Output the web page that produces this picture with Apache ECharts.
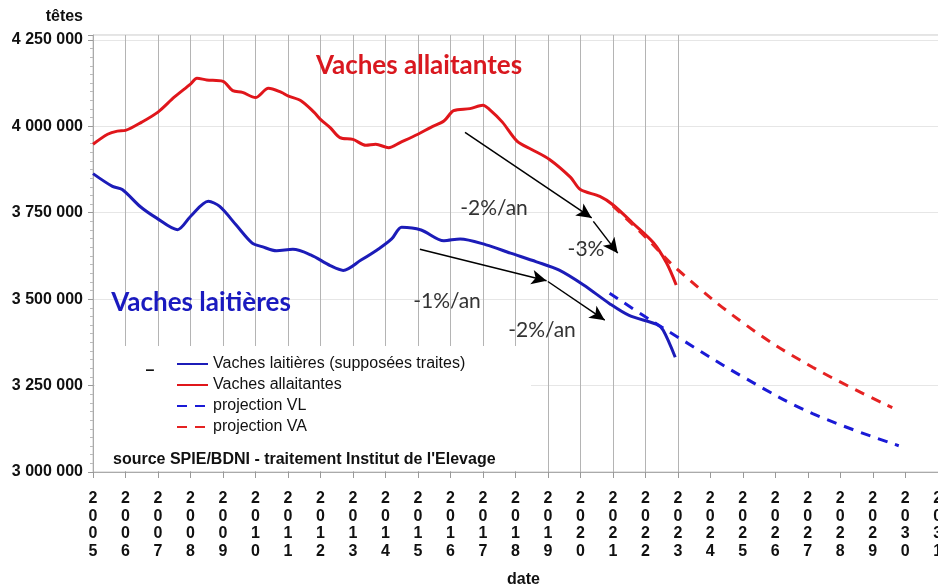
<!DOCTYPE html>
<html>
<head>
<meta charset="utf-8">
<script src="https://cdn.jsdelivr.net/npm/echarts@6/dist/echarts.min.js"></script>
<style>
  html, body { margin: 0; padding: 0; background: #fff; }
  #main { width: 938px; height: 585px; }
</style>
</head>
<body>
<div id="main"></div>
<script>
// effectifs (têtes), [année décimale, valeur]
const vaSolid = [
  [2005.0, 3948000], [2005.45, 3977000], [2005.75, 3986000], [2006.0, 3988000],
  [2006.5, 4012000], [2007.0, 4041000], [2007.5, 4084000], [2008.0, 4122000],
  [2008.2, 4139000], [2008.5, 4134000], [2009.0, 4130000], [2009.3, 4103000],
  [2009.6, 4098000], [2010.0, 4083000], [2010.4, 4110000], [2010.8, 4098000],
  [2011.0, 4088000], [2011.4, 4074000], [2011.8, 4041000], [2012.0, 4020000],
  [2012.3, 3996000], [2012.6, 3967000], [2013.0, 3962000], [2013.4, 3945000],
  [2013.7, 3948000], [2014.1, 3938000], [2014.45, 3953000], [2015.0, 3977000],
  [2015.4, 3997000], [2015.8, 4015000], [2016.1, 4045000], [2016.6, 4051000],
  [2017.0, 4061000], [2017.2, 4049000], [2017.6, 4012000], [2018.05, 3957000],
  [2018.5, 3933000], [2019.05, 3904000], [2019.7, 3852000], [2020.0, 3817000],
  [2020.6, 3797000], [2021.0, 3773000], [2021.6, 3721000], [2022.25, 3663000],
  [2022.65, 3605000], [2022.95, 3541000]
];
const vlSolid = [
  [2005.0, 3863000], [2005.6, 3826000], [2005.9, 3817000], [2006.45, 3768000],
  [2006.95, 3735000], [2007.6, 3701000], [2008.0, 3739000], [2008.55, 3783000],
  [2008.9, 3768000], [2009.4, 3715000], [2009.9, 3662000], [2010.2, 3652000],
  [2010.65, 3640000], [2011.15, 3644000], [2011.7, 3628000], [2012.3, 3597000],
  [2012.7, 3583000], [2013.25, 3613000], [2013.8, 3646000], [2014.2, 3675000],
  [2014.5, 3708000], [2015.1, 3700000], [2015.8, 3669000], [2016.3, 3674000],
  [2017.1, 3657000], [2017.85, 3633000], [2018.65, 3608000], [2019.35, 3584000],
  [2020.1, 3541000], [2020.9, 3487000], [2021.5, 3453000], [2022.35, 3427000],
  [2022.55, 3410000], [2022.92, 3332000]
];
const vlProj = [
  [2020.9, 3517000], [2022.0, 3449000], [2023.0, 3390000], [2025.1, 3270000],
  [2027.15, 3169000], [2029.8, 3076000]
];
const vaProj = [
  [2021.0, 3770000], [2022.0, 3680000], [2023.0, 3585000], [2025.1, 3425000],
  [2027.15, 3303000], [2029.6, 3186000]
];
// flèches de tendance : [départ, arrivée]
const arrowsVA = [
  [[2016.45, 3982000], [2020.35, 3735000]],
  [[2020.4, 3725000], [2021.15, 3633000]]
];
const arrowsVL = [
  [[2015.06, 3644000], [2018.96, 3553000]],
  [[2019.0, 3551000], [2020.75, 3439000]]
];
const firstYear = 2005, lastObsYear = 2023;

const gridYears = [];
for (let y = firstYear; y <= lastObsYear; y++) gridYears.push(y);

const fmtNum = v => String(v).replace(/\B(?=(\d{3})+(?!\d))/g, ' ');
const arrowData = list => list.map(a => [{ coord: a[0] }, { coord: a[1] }]);

const chart = echarts.init(document.getElementById('main'));
const option = {
  animation: false,
  textStyle: { fontFamily: 'Liberation Sans, Arial, sans-serif' },
  grid: {
    left: 93, top: 35, right: -16, bottom: 113, show: true,
    borderColor: '#c8c8c8', borderWidth: 1, outerBoundsMode: 'none', containLabel: false
  },
  legend: {
    data: ['Vaches laitières (supposées traites)', 'Vaches allaitantes', 'projection VL', 'projection VA'],
    orient: 'vertical', left: 176, top: 356, itemWidth: 31, itemHeight: 12, itemGap: 5,
    padding: 0, selectedMode: false, z: 20,
    itemStyle: { color: 'transparent', borderWidth: 0, opacity: 0 },
    textStyle: { fontSize: 16, color: '#111', fontFamily: 'Liberation Sans, Arial', padding: [0, 0, 0, 0] }
  },
  xAxis: {
    type: 'value', min: 2005, max: 2031.5, interval: 1,
    name: 'date', nameLocation: 'middle', nameGap: 100,
    nameTextStyle: { fontSize: 16, fontWeight: 'bold', color: '#111' },
    axisLine: { lineStyle: { color: '#aaa' } },
    axisTick: { length: 6, lineStyle: { color: '#999' } },
    splitLine: { show: false },
    axisLabel: {
      formatter: v => Number.isInteger(v) ? String(v).split('').join('\n') : '',
      fontSize: 16, fontWeight: 'bold', color: '#111', lineHeight: 17.5, margin: 18,
      showMaxLabel: true
    }
  },
  yAxis: {
    type: 'value', min: 3000000, max: 4264000, interval: 250000,
    axisLine: { show: true, lineStyle: { color: '#aaa' } },
    axisTick: { show: true, length: 5, lineStyle: { color: '#999' } },
    minorTick: { show: true, splitNumber: 10, length: 3, lineStyle: { color: '#bbb' } },
    splitLine: { lineStyle: { color: '#e6e6e6' } },
    axisLabel: {
      formatter: v => v % 250000 === 0 ? fmtNum(v) : '',
      fontSize: 16, fontWeight: 'bold', color: '#111', margin: 10
    }
  },
  series: [
    {
      name: 'gridlines', type: 'line', data: [], z: 0, silent: true,
      markLine: {
        silent: true, z: 0, symbol: ['none', 'none'], label: { show: false },
        lineStyle: { color: '#b4b4b4', width: 1, type: 'solid' },
        data: gridYears.map(y => ({ xAxis: y }))
      }
    },
    {
      name: 'Vaches laitières (supposées traites)', type: 'line', data: vlSolid,
      showSymbol: false, symbol: 'none', smooth: 0.3,
      lineStyle: { color: '#1c1cb8', width: 3 }, itemStyle: { color: '#1c1cb8' }, z: 3
    },
    {
      name: 'Vaches allaitantes', type: 'line', data: vaSolid,
      showSymbol: false, symbol: 'none', smooth: 0.3,
      lineStyle: { color: '#e0161b', width: 3 }, itemStyle: { color: '#e0161b' }, z: 3
    },
    {
      name: 'projection VL', type: 'line', data: vlProj,
      showSymbol: false, symbol: 'none', smooth: 0.4,
      lineStyle: { color: '#1a1ad6', width: 3, type: [10, 8] }, itemStyle: { color: '#1a1ad6' }, z: 3
    },
    {
      name: 'projection VA', type: 'line', data: vaProj,
      showSymbol: false, symbol: 'none', smooth: 0.4,
      lineStyle: { color: '#e52222', width: 3, type: [10, 8] }, itemStyle: { color: '#e52222' }, z: 3
    },
    {
      name: 'arrows', type: 'line', data: [], z: 6, silent: true,
      markLine: {
        silent: true, z: 6, symbol: ['none', 'arrow'], symbolSize: [11, 15], label: { show: false },
        lineStyle: { color: '#000', width: 1.5, type: 'solid' },
        data: arrowData(arrowsVA).concat(arrowData(arrowsVL))
      }
    }
  ],
  graphic: [
    { type: 'rect', z: 1, shape: { x: 95, y: 346, width: 436, height: 125 }, style: { fill: '#fff' } },
    { type: 'text', z: 10, x: 83, y: 17, style: { text: 'têtes', font: 'bold 16px "Liberation Sans", Arial', fill: '#111', align: 'right', verticalAlign: 'middle' } },
    { type: 'text', z: 10, x: 419, y: 66, style: { text: 'Vaches allaitantes', font: 'bold 26px Lato, "Open Sans", sans-serif', fill: '#d9181f', align: 'center', verticalAlign: 'middle' } },
    { type: 'text', z: 10, x: 201, y: 303, style: { text: 'Vaches laitières', font: 'bold 26px Lato, "Open Sans", sans-serif', fill: '#1a1abf', align: 'center', verticalAlign: 'middle' } },
    { type: 'text', z: 10, x: 494, y: 208, style: { text: '-2%/an', font: '21px Lato, "Open Sans", sans-serif', fill: '#333', align: 'center', verticalAlign: 'middle' } },
    { type: 'text', z: 10, x: 586, y: 249, style: { text: '-3%', font: '21px Lato, "Open Sans", sans-serif', fill: '#333', align: 'center', verticalAlign: 'middle' } },
    { type: 'text', z: 10, x: 447, y: 301, style: { text: '-1%/an', font: '21px Lato, "Open Sans", sans-serif', fill: '#333', align: 'center', verticalAlign: 'middle' } },
    { type: 'text', z: 10, x: 542, y: 330, style: { text: '-2%/an', font: '21px Lato, "Open Sans", sans-serif', fill: '#333', align: 'center', verticalAlign: 'middle' } },
    { type: 'text', z: 10, x: 150, y: 371, style: { text: '–', font: 'bold 16px "Liberation Sans", Arial', fill: '#111', align: 'center', verticalAlign: 'middle' } },
    { type: 'text', z: 10, x: 113, y: 460, style: { text: "source SPIE/BDNI - traitement Institut de l'Elevage", font: 'bold 16px "Liberation Sans", Arial', fill: '#111', align: 'left', verticalAlign: 'middle' } }
  ]
};
chart.setOption(option);
</script>
</body>
</html>
